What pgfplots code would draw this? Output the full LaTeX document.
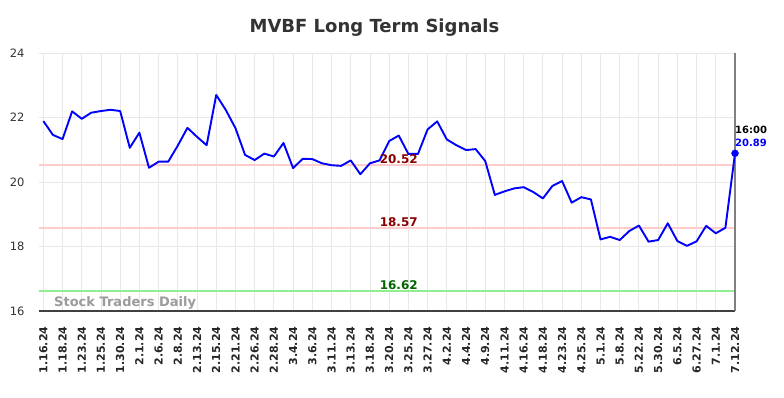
\documentclass[border=0pt]{standalone}
\usepackage{fontspec}
\setmainfont{DejaVu Sans}
\usepackage{pgfplots}
\pgfplotsset{compat=1.18}
\definecolor{gridc}{RGB}{232,232,232}
\definecolor{redline}{RGB}{255,204,204}
\definecolor{greenline}{RGB}{144,238,144}
\definecolor{darkred}{RGB}{139,0,0}
\definecolor{darkgreen}{RGB}{0,100,0}
\definecolor{titlec}{RGB}{51,51,51}
\definecolor{wm}{RGB}{155,155,155}
\pgfplotstableread{
x y
0 21.89
1 21.46
2 21.33
3 22.19
4 21.96
5 22.15
6 22.20
7 22.24
8 22.20
9 21.06
10 21.53
11 20.44
12 20.63
13 20.63
14 21.13
15 21.68
16 21.40
17 21.14
18 22.70
19 22.23
20 21.67
21 20.84
22 20.68
23 20.88
24 20.79
25 21.21
26 20.43
27 20.72
28 20.71
29 20.58
30 20.52
31 20.50
32 20.67
33 20.24
34 20.58
35 20.67
36 21.27
37 21.44
38 20.87
39 20.87
40 21.63
41 21.88
42 21.32
43 21.14
44 20.99
45 21.02
46 20.65
47 19.60
48 19.71
49 19.80
50 19.84
51 19.69
52 19.49
53 19.88
54 20.03
55 19.36
56 19.53
57 19.46
58 18.22
59 18.30
60 18.20
61 18.48
62 18.65
63 18.15
64 18.20
65 18.72
66 18.17
67 18.02
68 18.16
69 18.64
70 18.41
71 18.58
72 20.89
}\mydata
\begin{document}
\begin{tikzpicture}
\path[use as bounding box] (0pt,0pt) rectangle (784pt,398pt);
\node[anchor=base, text=titlec, font=\bfseries\fontsize{18}{21}\selectfont] at (374.5pt,365pt) {MVBF Long Term Signals};
\begin{axis}[
  at={(39pt,87pt)}, anchor=south west,
  scale only axis, width=696pt, height=258pt,
  xmin=-0.45, xmax=72, ymin=16, ymax=24,
  clip=false,
  axis x line*=bottom, axis y line*=left,
  x axis line style={draw=black!75, line width=1.2pt, -},
  y axis line style={draw=none},
  major tick length=0pt,
  xtick={0,2,...,72},
  xticklabels={1.16.24,1.18.24,1.23.24,1.25.24,1.30.24,2.1.24,2.6.24,2.8.24,2.13.24,2.15.24,2.21.24,2.26.24,2.28.24,3.4.24,3.6.24,3.11.24,3.13.24,3.18.24,3.20.24,3.25.24,3.27.24,4.2.24,4.4.24,4.9.24,4.11.24,4.16.24,4.18.24,4.23.24,4.25.24,5.1.24,5.8.24,5.22.24,5.30.24,6.5.24,6.27.24,7.1.24,7.12.24},
  x tick label style={rotate=90, anchor=east, xshift=-12pt, text=black!85, font=\bfseries\fontsize{11}{13}\selectfont},
  ytick={16,18,20,22,24},
  y tick label style={xshift=-11pt, text=titlec, font=\fontsize{11.5}{13}\selectfont},
  /pgf/number format/assume math mode=true,
  grid=major,
  major grid style={draw=gridc, line width=0.9pt},
]
\addplot[redline, line width=2pt] coordinates {(-0.45,20.52) (72,20.52)};
\addplot[redline, line width=2pt] coordinates {(-0.45,18.57) (72,18.57)};
\addplot[greenline, line width=2pt] coordinates {(-0.45,16.62) (72,16.62)};
\addplot[black!50, line width=1.5pt] coordinates {(72,16) (72,24)};
\addplot[blue, line width=1.9pt, line join=round] table[x=x,y=y] {\mydata};
\addplot[blue, only marks, mark=*, mark size=3.5pt] coordinates {(72,20.89)};
\node[anchor=south, text=darkred, font=\bfseries\fontsize{12}{14}\selectfont, inner sep=1pt] at (axis cs:37,20.52) {20.52};
\node[anchor=south, text=darkred, font=\bfseries\fontsize{12}{14}\selectfont, inner sep=1pt] at (axis cs:37,18.57) {18.57};
\node[anchor=south, text=darkgreen, font=\bfseries\fontsize{12}{14}\selectfont, inner sep=1pt] at (axis cs:37,16.62) {16.62};
\node[anchor=base west, text=blue, font=\bfseries\fontsize{10}{12}\selectfont, inner sep=0pt] at ([yshift=7pt]axis cs:72,20.89) {20.89};
\node[anchor=base west, text=black, font=\bfseries\fontsize{10}{12}\selectfont, inner sep=0pt] at ([yshift=20pt]axis cs:72,20.89) {16:00};
\node[anchor=base west, text=wm, font=\bfseries\fontsize{13}{15}\selectfont, inner sep=0pt] at (rel axis cs:0.0216,0.019) {Stock Traders Daily};
\end{axis}
\end{tikzpicture}
\end{document}
